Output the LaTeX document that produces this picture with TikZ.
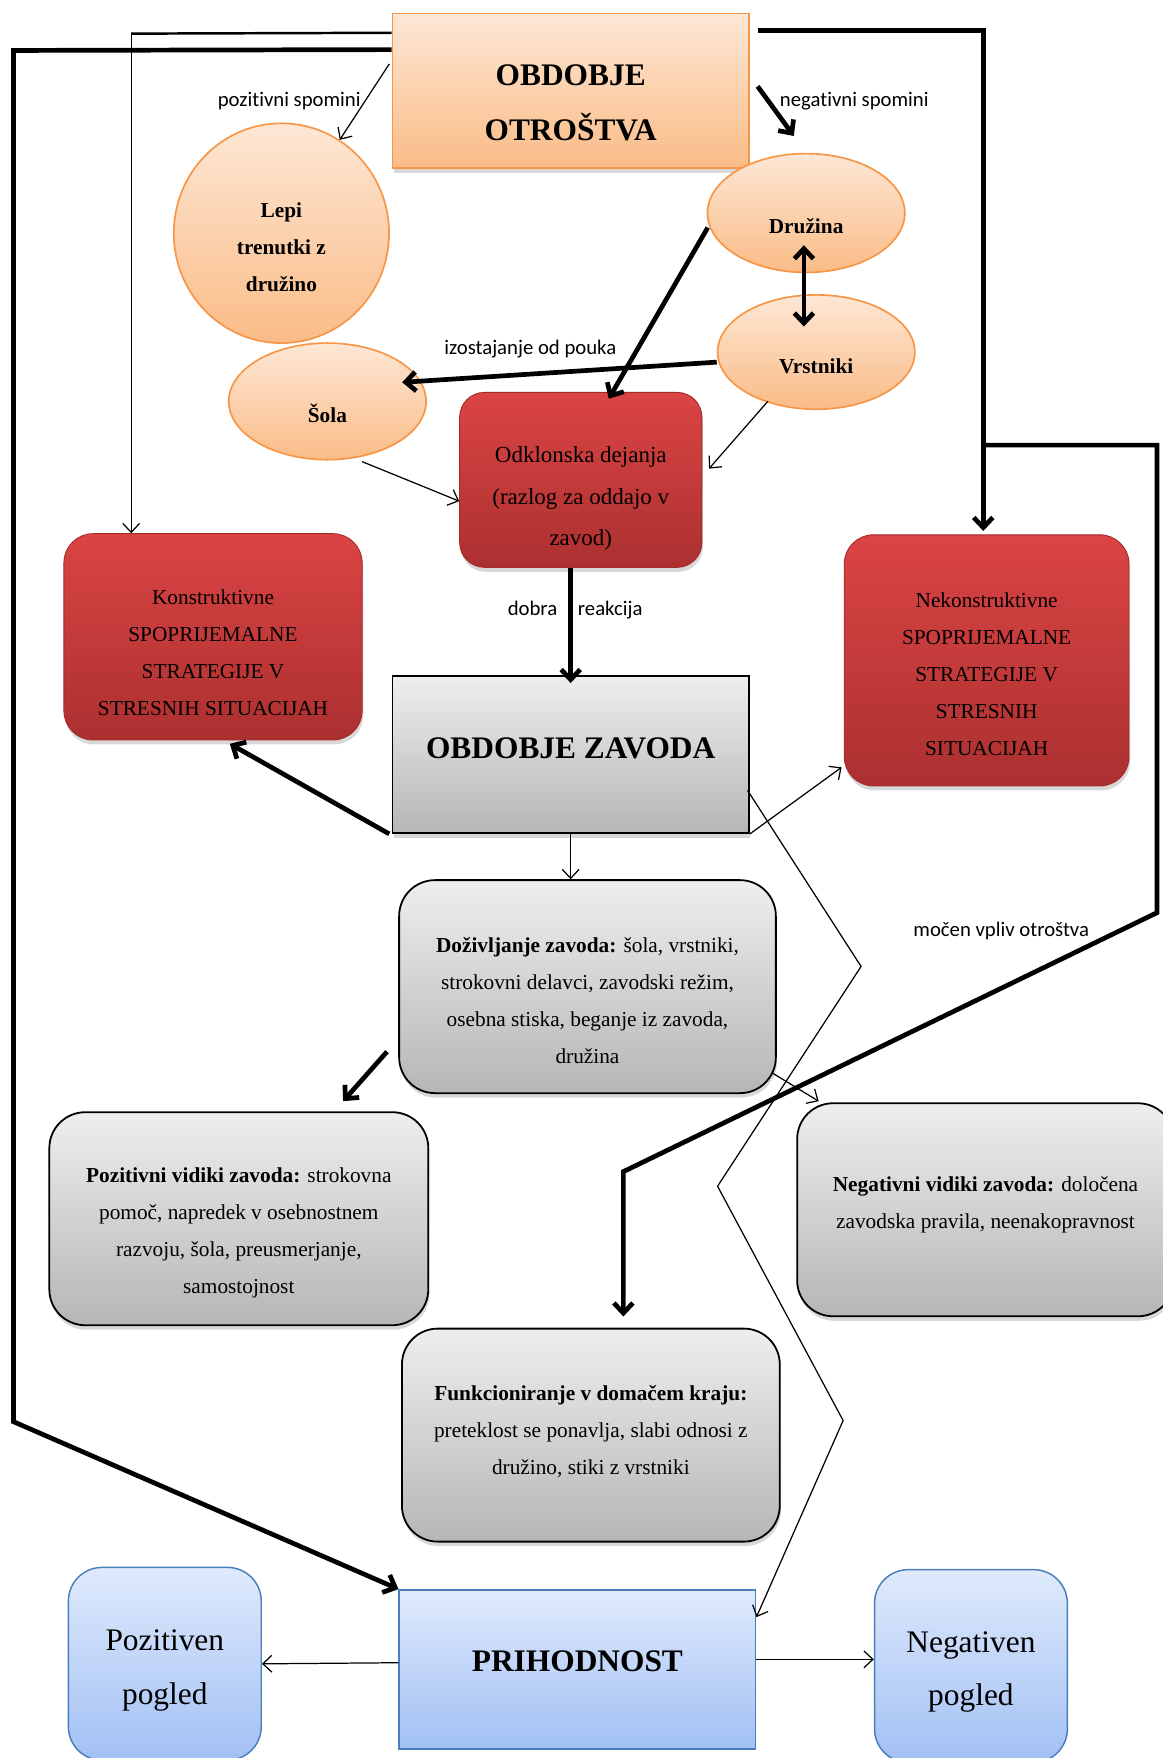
\documentclass[tikz,border=0pt]{standalone}
\usepackage{fontspec}
\setmainfont{Liberation Serif}
\newfontfamily\calibri[Ligatures=NoCommon]{Carlito}
\usepackage{tikz}
\usetikzlibrary{shapes.geometric, arrows.meta, calc, shadows}
\definecolor{peachtop}{RGB}{253, 231, 213}
\definecolor{peachbot}{RGB}{250, 188, 135}
\definecolor{peachline}{RGB}{247, 150, 70}
\definecolor{redtop}{RGB}{219, 68, 68}
\definecolor{redbot}{RGB}{172, 48, 48}
\definecolor{redline}{RGB}{165, 42, 42}
\definecolor{graytop}{RGB}{238, 238, 238}
\definecolor{graybot}{RGB}{182, 182, 182}
\definecolor{bluetop}{RGB}{223, 234, 252}
\definecolor{bluebot}{RGB}{162, 192, 244}
\definecolor{blueline}{RGB}{74, 126, 187}
\newcommand{\padtop}[1]{\rule{0pt}{#1pt}}
\newcommand{\padbot}[1]{\rule[-#1pt]{0pt}{#1pt}}

\begin{document}
\begin{tikzpicture}[x=1pt, y=-1pt,
    txt/.style={align=center, font=\fontsize{19}{33}\selectfont},
    big/.style={align=center, font=\bfseries\fontsize{28}{49}\selectfont},
    lbl/.style={font=\calibri\fontsize{18.5}{22}\selectfont},
    shade/.style={drop shadow={opacity=0.3, shadow xshift=1pt, shadow yshift=-4pt}},
    peach/.style={draw=peachline, line width=1.5pt, top color=peachtop, bottom color=peachbot},
    oval/.style={peach, ellipse, inner sep=0pt, align=center, font=\bfseries\fontsize{19}{33}\selectfont},
    redbox/.style={rectangle, rounded corners=26pt, draw=redline, line width=0.8pt,
      top color=redtop, bottom color=redbot, shade, txt},
    graybox/.style={rectangle, rounded corners=32pt, draw=black, line width=1.6pt,
      top color=graytop, bottom color=graybot, shade, txt},
    bluebox/.style={rectangle, draw=blueline, line width=1.3pt, top color=bluetop, bottom color=bluebot},
    thinarr/.style={line width=1.1pt, -{Straight Barb[length=8pt, width=15pt]}},
    heavyarr/.style={line width=4.2pt, -{Straight Barb[length=9pt, width=17pt]}},
    dblarr/.style={line width=4.2pt, {Straight Barb[length=9pt, width=17pt]}-{Straight Barb[length=9pt, width=17pt]}}]

  \useasboundingbox[fill=white] (0, 0) rectangle (1037, 1568);

  % childhood
  \node[peach, rectangle, minimum width=318pt, minimum height=138pt, big, shade] (otrostvo) at (509, 81)
    {\padtop{40}OBDOBJE\\OTROŠTVA};
  \node[oval, minimum width=192pt, minimum height=196pt] (lepi) at (251, 208) {\padtop{39}Lepi\\trenutki z\\družino};
  \node[oval, minimum width=176pt, minimum height=106pt] (druzina) at (719, 190) {\padtop{36}Družina};
  \node[oval, minimum width=176pt, minimum height=102pt] (vrstniki) at (728, 314) {\padtop{38}Vrstniki};
  \node[oval, minimum width=176pt, minimum height=104pt] (sola) at (292, 358) {\padtop{37}Šola};
  \node[redbox, minimum width=216pt, minimum height=156pt, rounded corners=22pt,
    font=\fontsize{20.5}{37}\selectfont] (odklon) at (518, 428)
    {\padtop{48}Odklonska dejanja\\(razlog za oddajo v\\zavod)};

  % coping strategies
  \node[redbox, minimum width=266pt, minimum height=184pt] (konstr) at (190, 568)
    {\padtop{41}Konstruktivne\\SPOPRIJEMALNE\\STRATEGIJE V\\STRESNIH SITUACIJAH};
  \node[redbox, minimum width=254pt, minimum height=224pt] (nekonstr) at (880, 589)
    {\padtop{38}Nekonstruktivne\\SPOPRIJEMALNE\\STRATEGIJE V\\STRESNIH\\SITUACIJAH};

  % institution
  \node[rectangle, draw=black, line width=1.6pt, top color=graytop, bottom color=graybot, shade,
    minimum width=318pt, minimum height=140pt, big] (zavod) at (509, 673) {\padbot{12}OBDOBJE ZAVODA};
  \node[graybox, minimum width=336pt, minimum height=190pt] (dozivl) at (524, 880)
    {\padtop{39}\textbf{Doživljanje zavoda:} šola, vrstniki,\\strokovni delavci, zavodski režim,\\osebna stiska, beganje iz zavoda,\\družina};
  \node[graybox, minimum width=338pt, minimum height=190pt] (pozvid) at (213, 1087)
    {\padtop{39}\textbf{Pozitivni vidiki zavoda:} strokovna\\pomoč, napredek v osebnostnem\\razvoju, šola, preusmerjanje,\\samostojnost};
  \node[graybox, minimum width=336pt, minimum height=190pt] (negvid) at (879, 1079)
    {\textbf{Negativni vidiki zavoda:} določena\\zavodska pravila, neenakopravnost\padbot{12}};
  \node[graybox, minimum width=337pt, minimum height=190pt] (funkc) at (527, 1280)
    {\textbf{Funkcioniranje v domačem kraju:}\\preteklost se ponavlja, slabi odnosi z\\družino, stiki z vrstniki\padbot{9}};

  % future
  \node[bluebox, minimum width=318pt, minimum height=142pt, big] (prih) at (515, 1489) {\padbot{14}PRIHODNOST};
  \node[bluebox, rounded corners=30pt, minimum width=172pt, minimum height=172pt, align=center,
    font=\fontsize{28}{48}\selectfont] (pozpog) at (147, 1484) {\padtop{31}Pozitiven\\pogled};
  \node[bluebox, rounded corners=30pt, minimum width=172pt, minimum height=172pt, align=center,
    font=\fontsize{28}{48}\selectfont] (negpog) at (866, 1486) {\padtop{29}Negativen\\pogled};

  % labels
  \node[lbl] (lpoz) at (258, 90) {pozitivni spomini};
  \node[lbl] (lneg) at (762, 90) {negativni spomini};
  \node[lbl] (lizo) at (473, 311) {izostajanje od pouka};
  \node[lbl] (lrea) at (513, 544) {dobra\quad reakcija};
  \node[lbl] (lvpl) at (893, 830) {močen vpliv otroštva};

  % long connectors
  \draw[heavyarr] ($(otrostvo.north west)+(0, 33)$) -- (12, 45) -- (12, 1268) -- (prih.north west);
  \draw[line width=2.2pt] ($(otrostvo.north west)+(0, 18)$) -- (117, 30) coordinate (kbend);
  \draw[thinarr] (kbend) -- (kbend |- konstr.north);
  \draw[heavyarr] ($(otrostvo.north east)+(7, 16)$) -| ($(nekonstr.north)+(-3, -3)$);
  \coordinate (rbranch) at (877, 397);
  \draw[heavyarr] (rbranch) -- (1032, 397) -- (1032, 814) -- (556, 1045) -- ($(funkc.north)+(29, -10)$);

  % childhood connectors
  \draw[thinarr] ($(otrostvo.west)+(-2, -24)$) -- (lepi.58);
  \draw[heavyarr] ($(otrostvo.east)+(7, -4)$) -- ($(druzina.north)+(-11, -15)$);
  \draw[dblarr] ($(druzina.south)+(-2, -25)$) -- ($(vrstniki.north)+(-11, 29)$);
  \draw[heavyarr] ($(druzina.west)+(1, 13)$) -- ($(odklon.north)+(25, 6)$);
  \draw[heavyarr] ($(vrstniki.west)+(0, 9)$) -- ($(sola.east)+(-22, -17)$);
  \draw[thinarr] ($(sola.south)+(31, 1)$) -- ($(odklon.west)+(0, 19)$);
  \draw[thinarr] ($(vrstniki.south)+(-43, -8)$) -- ($(odklon.east)+(6, -10)$);
  \draw[heavyarr] (zavod.north |- odklon.south) -- ($(zavod.north)+(0, 7)$);

  % institution connectors
  \draw[heavyarr] ($(zavod.south west)+(-2, 0)$) -- ($(konstr.south)+(15, 3)$);
  \draw[thinarr] (zavod.south east) -- ($(nekonstr.south west)+(-2, -17)$);
  \draw[thinarr] (zavod.south) -- (zavod.south |- dozivl.north);
  \draw[heavyarr] ($(dozivl.west)+(-10, 58)$) -- ($(pozvid.north)+(93, -9)$);
  \draw[thinarr] ($(dozivl.east)+(-4, 77)$) -- ($(negvid.north west)+(20, -1)$);
  \draw[thinarr] ($(zavod.east)+(-2, 32)$) -- (768, 862) -- (640, 1058) -- (752, 1267) -- ($(prih.north east)+(0, 25)$);

  % future connectors
  \draw[thinarr] ($(prih.west)+(0, -6)$) -- (pozpog.east);
  \draw[thinarr] ($(prih.east)+(0, -9)$) -- ($(negpog.west)+(0, -6)$);

\end{tikzpicture}
\end{document}
